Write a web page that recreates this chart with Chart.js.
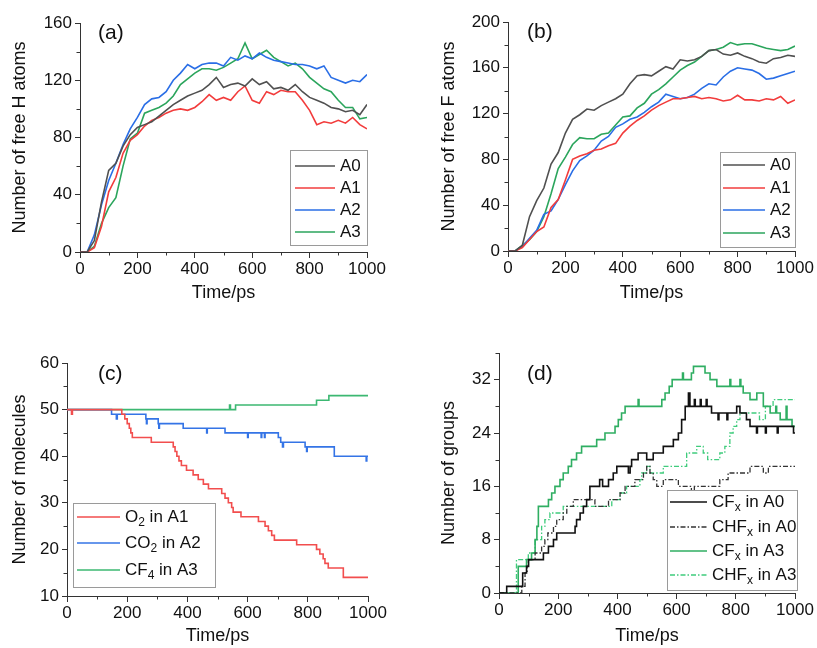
<!DOCTYPE html>
<html><head><meta charset="utf-8">
<script src="https://cdn.jsdelivr.net/npm/chart.js@4.4.1/dist/chart.umd.min.js"></script>
<style>
html,body{margin:0;padding:0;background:#fff;}
body{width:817px;height:648px;position:relative;overflow:hidden;}
canvas{position:absolute;}
#ca{left:0;top:0;} #cb{left:410px;top:0;} #cc{left:0;top:300px;} #cd{left:410px;top:300px;}
</style></head><body>
<canvas id="ca" width="410" height="318"></canvas>
<canvas id="cb" width="407" height="318"></canvas>
<canvas id="cc" width="410" height="348"></canvas>
<canvas id="cd" width="407" height="348"></canvas>
<script>
// ---------- DATA ----------
const timePs = [0,25,50,75,100,125,150,175,200,225,250,275,300,325,350,375,400,425,450,475,500,525,550,575,600,625,650,675,700,725,750,775,800,825,850,875,900,925,950,975,1000];
const seriesNames = ['A0','A1','A2','A3'];

// (a) free H atoms
const hA0 = [0,0,8,35,57,62,74,82,87,89,91,95,99,103,106,109,111,113,117,122,115,117,118,116,121,117,119,114,115,113,117,112,108,106,104,101,100,98,99,96,103];
const hA1 = [0,0,3,18,42,52,69,78,82,88,92,94,97,99,100,99,101,105,110,106,108,106,112,116,106,104,112,110,113,112,112,106,99,89,91,90,92,90,94,89,86];
const hA2 = [0,0,12,33,50,62,75,86,94,103,107,108,112,120,125,131,128,131,132,132,130,136,134,137,135,139,136,134,133,132,131,131,130,128,130,122,120,118,120,119,124];
const hA3 = [0,0,4,20,31,38,60,79,83,97,99,101,104,109,117,121,125,128,128,127,129,132,135,146,135,138,141,136,133,130,132,128,122,118,114,112,106,101,101,93,94];

// (b) free F atoms
const fA0 = [0,0,5,30,44,55,76,86,103,115,119,124,123,127,130,133,137,146,153,154,153,157,161,159,167,166,167,170,175,176,172,171,173,170,168,165,164,168,169,171,170];
const fA1 = [0,0,3,10,17,21,38,45,62,80,83,85,88,89,92,94,103,109,114,118,123,127,130,133,133,134,135,133,134,133,131,132,136,132,132,131,133,132,135,129,132];
const fA2 = [0,0,4,11,18,32,35,45,58,70,79,83,88,96,100,108,111,115,117,121,126,130,137,135,133,134,137,142,146,145,152,157,160,159,158,155,150,151,153,155,157];
const fA3 = [0,0,5,10,17,30,50,72,82,93,99,98,98,102,103,110,117,118,125,129,137,141,146,152,158,162,165,170,175,176,178,182,180,181,181,179,177,176,175,176,179];

// (c) number of molecules (value changes at given times)
const moleculeLabels = ['O₂ in A1','CO₂ in A2','CF₄ in A3'];
const o2Time  = [0,15,18,182,192,200,207,212,217,280,353,359,365,372,380,397,419,436,453,470,514,525,536,547,552,578,636,658,669,680,689,763,829,840,851,857,868,918,1000];
const o2Count = [50,49,50,49,48,47,46,45,44,43,42,41,40,39,38,37,36,35,34,33,32,31,30,29,28,27,26,25,24,23,22,21,20,19,18,17,16,14,14];
const co2Time  = [0,148,164,167,262,264,266,303,305,307,386,464,466,525,600,602,645,647,656,658,702,710,716,719,791,796,798,888,994,996,1000];
const co2Count = [50,49,48,49,48,47,48,47,46,47,46,45,46,45,44,45,44,45,44,45,44,43,42,43,42,41,42,40,39,40,40];
const cf4Time  = [0,540,543,560,829,870,1000];
const cf4Count = [50,51,50,51,52,53,53];

// (d) number of groups (value changes at given times)
const groupLabels = ['CFₓ in A0','CHFₓ in A0','CFₓ in A3','CHFₓ in A3'];
const cfA0Time  = [0,26,80,93,100,150,167,184,195,257,262,274,285,296,307,340,350,370,386,398,437,443,448,470,499,521,555,589,606,617,629,640,645,660,663,680,683,700,703,718,740,743,770,773,803,814,836,848,870,873,900,903,940,943,995,1000];
const cfA0Count = [0,1,3,4,5,6,7,8,9,10,11,12,13,14,16,17,16,17,18,19,18,19,20,21,20,21,22,23,24,26,28,30,28,29,28,29,28,29,28,27,26,27,26,27,28,27,26,25,24,25,24,25,24,25,24,24];
const chfA0Time  = [0,77,88,95,99,122,144,155,165,184,195,217,229,251,324,370,409,426,459,488,499,510,521,533,555,606,650,660,746,774,848,893,910,1000];
const chfA0Count = [0,1,3,4,5,6,7,8,9,10,11,12,13,14,13,14,15,16,17,18,19,18,17,16,17,16,15,16,17,18,19,18,19,19];
const cfA3Time  = [0,65,93,110,122,128,133,167,178,189,206,217,234,245,262,279,330,358,392,403,414,426,470,473,550,561,575,585,620,623,650,657,696,713,736,780,783,814,817,825,848,871,893,916,935,938,950,970,973,990,1000];
const cfA3Count = [0,4,5,6,8,10,13,14,15,16,17,18,19,20,21,22,23,24,25,26,27,28,29,28,29,30,31,32,33,32,33,34,33,32,31,32,31,32,31,30,29,30,28,27,28,27,26,28,26,25,25];
const chfA3Time  = [0,59,99,122,144,155,172,217,381,409,431,476,482,499,510,555,634,668,690,705,746,763,780,791,803,814,850,880,900,926,1000];
const chfA3Count = [0,5,6,8,10,11,12,13,14,15,16,17,18,19,18,19,21,22,21,20,21,22,24,25,26,27,27,26,28,29,29];

// ---------- HELPERS ----------
const FONT = '"Liberation Sans", Arial, sans-serif';
const AXIS = '#333';
const TXT = '#111';

function pairs(xs, ys){ return xs.map((x,i)=>({x:x, y:ys[i]})); }

function xScale(h, padBottom){
  return {
    type:'linear', min:0, max:1000,
    ticks:{stepSize:200, color:TXT, font:{family:FONT,size:17}, padding:1, maxRotation:0, autoSkip:false,
           callback:(v)=>String(v)},
    grid:{drawOnChartArea:false, drawTicks:true, tickLength:6, color:AXIS, lineWidth:1},
    border:{display:true, color:AXIS, width:1},
    title:{display:true, text:'Time/ps', color:TXT, font:{family:FONT,size:18}, padding:{top:0,bottom:padBottom}},
    afterFit(s){ s.height = h; }
  };
}
function yScale(min, max, step, title, w, padTop){
  return {
    type:'linear', min:min, max:max,
    ticks:{stepSize:step, includeBounds:false, color:TXT, font:{family:FONT,size:17}, padding:3,
           callback:(v)=>String(v)},
    grid:{drawOnChartArea:false, drawTicks:true, tickLength:5, color:AXIS, lineWidth:1},
    border:{display:true, color:AXIS, width:1},
    title:{display:true, text:title, color:TXT, font:{family:FONT,size:18}, padding:{top:padTop,bottom:0}},
    afterFit(s){ s.width = w; }
  };
}

const SUB = {'₂':'2','₄':'4','ₓ':'x'};
function drawRich(ctx, text, x, y, fs){
  let cx = x;
  ctx.textBaseline = 'middle'; ctx.textAlign = 'left'; ctx.fillStyle = TXT;
  for (const ch of text){
    if (SUB[ch]){
      ctx.font = Math.round(fs*0.7)+'px '+FONT;
      ctx.fillText(SUB[ch], cx, y + fs*0.32);
      cx += ctx.measureText(SUB[ch]).width;
    } else {
      ctx.font = fs+'px '+FONT;
      ctx.fillText(ch, cx, y);
      cx += ctx.measureText(ch).width;
    }
  }
}

const minorTicks = {
  id:'minorTicks',
  afterDraw(chart, args, o){
    const ctx = chart.ctx, xs = chart.scales.x, ys = chart.scales.y;
    ctx.save(); ctx.strokeStyle = AXIS; ctx.lineWidth = 1;
    for (let v = xs.min + o.xMinor; v < xs.max; v += o.xMinor){
      if (Math.abs(v/o.xMajor - Math.round(v/o.xMajor)) < 1e-6) continue;
      const p = Math.round(xs.getPixelForValue(v)) + 0.5;
      ctx.beginPath(); ctx.moveTo(p, xs.top); ctx.lineTo(p, xs.top + 3.5); ctx.stroke();
    }
    for (let v = ys.min + o.yMinor; v <= ys.max + 1e-9; v += o.yMinor){
      if (Math.abs(v/o.yMajor - Math.round(v/o.yMajor)) < 1e-6) continue;
      const p = Math.round(ys.getPixelForValue(v)) + 0.5;
      ctx.beginPath(); ctx.moveTo(ys.right - 3.5, p); ctx.lineTo(ys.right, p); ctx.stroke();
    }
    ctx.restore();
  }
};

const decor = {
  id:'decor',
  afterDraw(chart, args, o){
    const ctx = chart.ctx; ctx.save();
    ctx.font = '21px '+FONT; ctx.fillStyle = TXT; ctx.textBaseline = 'middle'; ctx.textAlign = 'left';
    ctx.fillText(o.tag, o.tagX, o.tagY);
    const L = o.legend;
    ctx.fillStyle = '#fff'; ctx.fillRect(L.x, L.y, L.w, L.h);
    ctx.strokeStyle = '#9a9a9a'; ctx.lineWidth = 1; ctx.strokeRect(L.x+0.5, L.y+0.5, L.w, L.h);
    chart.data.datasets.forEach((ds, i)=>{
      const y = L.rows[i];
      ctx.strokeStyle = ds.borderColor; ctx.lineWidth = ds.borderWidth;
      ctx.setLineDash(ds.borderDash || []);
      ctx.beginPath(); ctx.moveTo(L.x1, y); ctx.lineTo(L.x2, y); ctx.stroke();
      ctx.setLineDash([]);
      drawRich(ctx, ds.label, L.tx, y, L.fs);
    });
    ctx.restore();
  }
};

function baseOptions(pad, xs, ys, minor, dec){
  return {
    responsive:false, animation:false, devicePixelRatio:1,
    layout:{padding:pad},
    elements:{point:{radius:0}, line:{tension:0}},
    scales:{x:xs, y:ys},
    plugins:{legend:{display:false}, tooltip:{enabled:false}, minorTicks:minor, decor:dec}
  };
}

function noisyDatasets(arrs, colors){
  return arrs.map((a,i)=>({label:seriesNames[i], data:a.map((v,j)=>({x:timePs[j], y:v})), borderColor:colors[i], borderWidth:1.6}));
}

const colH = ['#505050','#f23c3c','#2a6ee6','#2ba55c'];

// (a)
new Chart(document.getElementById('ca'), {
  type:'line',
  data:{datasets:noisyDatasets([hA0,hA1,hA2,hA3], colH)},
  options:baseOptions({left:0,top:23,right:43,bottom:0},
    xScale(66, 14), yScale(0,160,40,'Number of free H atoms',80,9),
    {xMinor:100,xMajor:200,yMinor:20,yMajor:40},
    {tag:'(a)', tagX:98, tagY:33, legend:{x:290,y:150,w:77,h:95,x1:295,x2:335,tx:340,rows:[166,188,210,232],fs:17}}),
  plugins:[minorTicks, decor]
});

// (b)
new Chart(document.getElementById('cb'), {
  type:'line',
  data:{datasets:noisyDatasets([fA0,fA1,fA2,fA3], colH)},
  options:baseOptions({left:0,top:22,right:22,bottom:0},
    xScale(67, 14), yScale(0,200,40,'Number of free F atoms',98,28),
    {xMinor:100,xMajor:200,yMinor:20,yMajor:40},
    {tag:'(b)', tagX:117, tagY:32, legend:{x:310,y:152,w:75,h:95,x1:313,x2:355,tx:360,rows:[165,188,210,233],fs:17}}),
  plugins:[minorTicks, decor]
});

// (c)
new Chart(document.getElementById('cc'), {
  type:'line',
  data:{datasets:[
    {label:moleculeLabels[0], data:pairs(o2Time,o2Count), borderColor:'#f24e4e', borderWidth:1.6, stepped:true},
    {label:moleculeLabels[1], data:pairs(co2Time,co2Count), borderColor:'#3474e6', borderWidth:1.6, stepped:true},
    {label:moleculeLabels[2], data:pairs(cf4Time,cf4Count), borderColor:'#3cb872', borderWidth:1.6, stepped:true}
  ]},
  options:baseOptions({left:0,top:63,right:42,bottom:0},
    xScale(52, 1), yScale(10,60,10,'Number of molecules',67,9),
    {xMinor:100,xMajor:200,yMinor:5,yMajor:10},
    {tag:'(c)', tagX:98, tagY:74, legend:{x:73,y:203,w:142,h:84,x1:77,x2:120,tx:125,rows:[217,243,270],fs:17}}),
  plugins:[minorTicks, decor]
});

// (d)
new Chart(document.getElementById('cd'), {
  type:'line',
  data:{datasets:[
    {label:groupLabels[0], data:pairs(cfA0Time,cfA0Count), borderColor:'#111111', borderWidth:1.6, stepped:true},
    {label:groupLabels[1], data:pairs(chfA0Time,chfA0Count), borderColor:'#333333', borderWidth:1.3, borderDash:[5,2,1.5,2], stepped:true},
    {label:groupLabels[2], data:pairs(cfA3Time,cfA3Count), borderColor:'#2fae62', borderWidth:1.6, stepped:true},
    {label:groupLabels[3], data:pairs(chfA3Time,chfA3Count), borderColor:'#3fcc7c', borderWidth:1.3, borderDash:[5,2,1.5,2], stepped:true}
  ]},
  options:baseOptions({left:0,top:53,right:22,bottom:0},
    xScale(55, 1), yScale(0,36,8,'Number of groups',89,28),
    {xMinor:100,xMajor:200,yMinor:4,yMajor:8},
    {tag:'(d)', tagX:117, tagY:74, legend:{x:257,y:190,w:130,h:100,x1:260,x2:297,tx:302,rows:[202,227,251,275],fs:17}}),
  plugins:[minorTicks, decor]
});
</script>
</body></html>
